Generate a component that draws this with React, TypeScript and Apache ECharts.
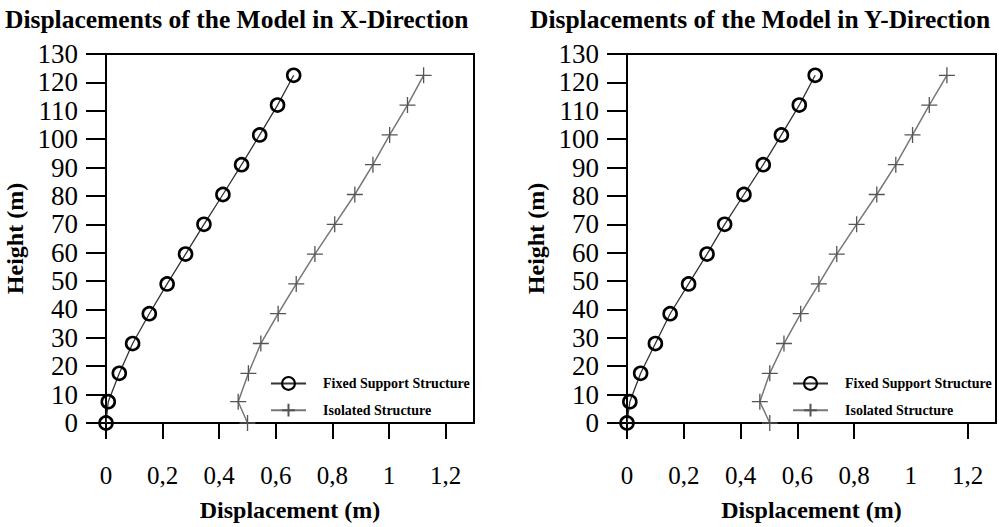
import React, { useEffect, useRef } from "react";
import * as echarts from "echarts";

const heights = [0, 7.5, 17.5, 28, 38.5, 49, 59.5, 70, 80.5, 91, 101.5, 112, 122.5];
const fixedX = [0, 0.008, 0.047, 0.094, 0.153, 0.216, 0.281, 0.346, 0.413, 0.479, 0.543, 0.606, 0.663];
const isolatedX = [0.5, 0.467, 0.503, 0.547, 0.608, 0.672, 0.738, 0.808, 0.879, 0.943, 1.002, 1.065, 1.122];
const fixedY = [0, 0.01, 0.048, 0.1, 0.152, 0.217, 0.282, 0.344, 0.412, 0.48, 0.544, 0.607, 0.663];
const isolatedY = [0.503, 0.468, 0.503, 0.553, 0.612, 0.676, 0.739, 0.809, 0.88, 0.947, 1.006, 1.065, 1.127];

const xTickValues = [0, 0.2, 0.4, 0.6, 0.8, 1, 1.2];
const xTickValuesRight = [0, 0.2, 0.4, 0.6, 0.8, 1.2];
const titles = ["Displacements of the Model in X-Direction", "Displacements of the Model in Y-Direction"];
const seriesNames = ["Fixed Support Structure", "Isolated Structure"];

const FONT = "Liberation Serif";
const CROSS = "path://M5 0L5 10M0 5L10 5";

function pairs(xs: number[], ys: number[]) {
  return xs.map((x, i) => [x, ys[i]]);
}

export default function App() {
  const ref = useRef<HTMLDivElement>(null);
  useEffect(() => {
    if (!ref.current) return;
    const chart = echarts.init(ref.current, null, { renderer: "svg" });
    const grids = [
      { left: 106, top: 54, width: 368, height: 383 },
      { left: 627, top: 54, width: 369, height: 383 },
    ];
    const xAxis = [0, 1].map((i) => ({
      type: "value",
      gridIndex: i,
      min: 0,
      max: 1.3,
      interval: 0.2,
      name: "Displacement (m)",
      nameLocation: "middle",
      nameGap: 75,
      nameTextStyle: { fontFamily: FONT, fontWeight: "bold", fontSize: 24, color: "#000" },
      axisLine: { show: true, lineStyle: { color: "#000", width: 2 } },
      axisTick: {
        show: true,
        inside: false,
        length: 16,
        lineStyle: { color: "#000", width: 2 },
        customValues: i === 0 ? xTickValues : xTickValuesRight,
      },
      axisLabel: {
        customValues: xTickValues,
        margin: 40,
        fontFamily: FONT,
        fontSize: 25,
        color: "#000",
        formatter: (v: number) => String(v).replace(".", ","),
      },
      splitLine: { show: false },
    }));
    const yAxis = [0, 1].map((i) => ({
      type: "value",
      gridIndex: i,
      min: 0,
      max: 130,
      interval: 10,
      name: "Height (m)",
      nameLocation: "middle",
      nameGap: 79,
      nameTextStyle: { fontFamily: FONT, fontWeight: "bold", fontSize: 24, color: "#000" },
      axisLine: { show: true, lineStyle: { color: "#000", width: 2 } },
      axisTick: { show: true, inside: false, length: 20, lineStyle: { color: "#000", width: 2 } },
      axisLabel: { margin: 28, fontFamily: FONT, fontSize: 27, color: "#000" },
      splitLine: { show: false },
    }));
    const data = [
      [pairs(fixedX, heights), pairs(isolatedX, heights)],
      [pairs(fixedY, heights), pairs(isolatedY, heights)],
    ];
    const series: any[] = [];
    [0, 1].forEach((i) => {
      series.push({
        type: "line",
        name: seriesNames[0],
        xAxisIndex: i,
        yAxisIndex: i,
        data: data[i][0],
        symbol: "circle",
        symbolSize: 13,
        lineStyle: { color: "#333", width: 1.3 },
        itemStyle: { color: "rgba(255,255,255,0)", borderColor: "#000", borderWidth: 2.6 },
        z: 3,
      });
      series.push({
        type: "line",
        name: seriesNames[1],
        xAxisIndex: i,
        yAxisIndex: i,
        data: data[i][1],
        symbol: CROSS,
        symbolSize: 16,
        lineStyle: { color: "#777", width: 1.5 },
        itemStyle: { color: "rgba(255,255,255,0)", borderColor: "#555", borderWidth: 1.3 },
        z: 2,
      });
    });
    const legendBase = {
      orient: "vertical",
      top: 371,
      itemWidth: 35,
      itemHeight: 16,
      itemGap: 12,
      data: seriesNames,
      textStyle: { fontFamily: FONT, fontWeight: "bold", fontSize: 14, color: "#000", padding: [0, 0, 0, 12] },
    };
    const titleStyle = { fontFamily: FONT, fontWeight: "bold", fontSize: 25.5, color: "#000" };
    chart.setOption({
      animation: false,
      backgroundColor: "#fff",
      title: [
        { text: titles[0], left: 0, top: 1, textStyle: titleStyle },
        { text: titles[1], left: 525, top: 1, textStyle: titleStyle },
      ],
      grid: grids.map((g) => ({ ...g, show: true, borderColor: "#000", borderWidth: 2, backgroundColor: "transparent" })),
      xAxis,
      yAxis,
      legend: [
        { ...legendBase, left: 265 },
        { ...legendBase, left: 787 },
      ],
      series,
    });
    return () => chart.dispose();
  }, []);
  return (
    <div
      ref={ref}
      style={{ position: "absolute", left: 0, top: 0, width: 999, height: 527, background: "#fff" }}
    />
  );
}
